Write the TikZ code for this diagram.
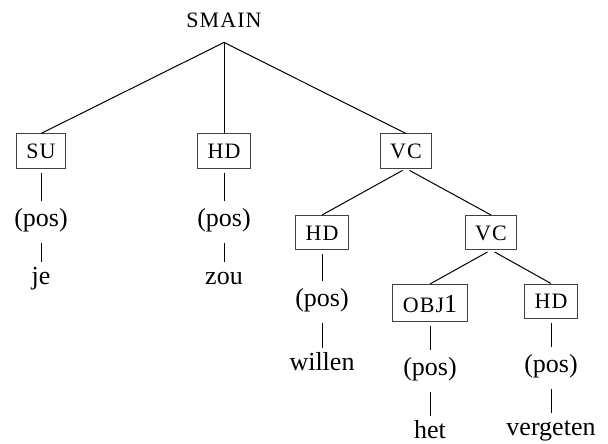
\documentclass[tikz,border=0pt]{standalone}
\usepackage{fontspec}
\setmainfont{Liberation Serif}
\newfontfamily\catfont[LetterSpace=5]{Liberation Serif}
\usetikzlibrary{positioning}
\tikzset{
    % category labels
    cat/.style={font=\fontsize{11}{13}\catfont, text height=7.5pt, text depth=0pt},
    catbox/.style={cat, draw=black!75, line width=0.5pt, inner ysep=4.75pt, inner xsep=5pt},
    % leaves
    posnode/.style={font=\fontsize{13}{15}\selectfont, text height=9pt, text depth=3pt, inner ysep=3.5pt, anchor=base},
    word/.style={font=\fontsize{13}{15}\selectfont, text height=9pt, text depth=3pt, inner ysep=2pt, anchor=base},
    % lines
    branch/.style={line width=0.5pt, shorten <=2pt},
    stem/.style={line width=0.5pt, shorten <=2pt}
}
\begin{document}
\begin{tikzpicture}[x=0.5pt, y=-0.5pt]
\useasboundingbox (0,0) rectangle (608,443);

\node[cat, anchor=base, inner ysep=7pt] (smain) at (224,28) {SMAIN};

\node[catbox] (su) at (41,151) {SU};
\node[catbox] (hd1) at (224,151) {HD};
\node[catbox] (vc1) at (406,151) {VC};

\node[posnode] (pos1) at (41,226) {(pos)};
\node[posnode] (pos2) at (224,226) {(pos)};
\node[word] (je) at (41,284) {je};
\node[word] (zou) at (224,284) {zou};

\node[catbox] (hd2) at (322,232.5) {HD};
\node[catbox] (vc2) at (491,232.5) {VC};
\node[posnode] (pos3) at (322,306) {(pos)};
\node[word] (willen) at (322,370) {willen};

\node[catbox, text height=9pt] (obj) at (430,303) {OBJ\fontsize{13}{15}\selectfont 1};
\node[catbox] (hd3) at (551,301) {HD};
\node[posnode] (pos4) at (430,375) {(pos)};
\node[posnode] (pos5) at (551,372) {(pos)};
\node[word] (het) at (430,438) {het};
\node[word] (vergeten) at (551,435) {vergeten};

% tree
\draw[line width=0.5pt] (smain.south) -- (su.north);
\draw[line width=0.5pt] (smain.south) -- (hd1.north);
\draw[line width=0.5pt] (smain.south) -- (vc1.north);
\draw[branch] (vc1.south) -- (hd2.north);
\draw[branch] (vc1.south) -- (vc2.north);
\draw[branch] (vc2.south) -- (obj.north);
\draw[branch] (vc2.south) -- (hd3.north);

% leaves
\draw[stem] (su.south) -- (pos1.north);
\draw[stem] (pos1.south) -- (je.north);
\draw[stem] (hd1.south) -- (pos2.north);
\draw[stem] (pos2.south) -- (zou.north);
\draw[stem] (hd2.south) -- (pos3.north);
\draw[stem] (pos3.south) -- (willen.north);
\draw[stem] (obj.south) -- (pos4.north);
\draw[stem] (pos4.south) -- (het.north);
\draw[stem] (hd3.south) -- (pos5.north);
\draw[stem] (pos5.south) -- (vergeten.north);
\end{tikzpicture}
\end{document}
